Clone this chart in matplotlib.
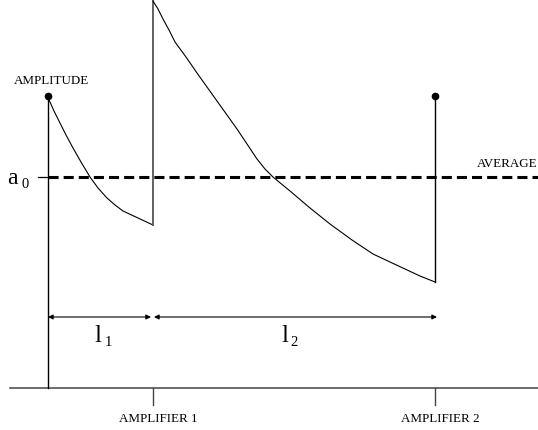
import matplotlib
matplotlib.use("Agg")
import matplotlib.pyplot as plt
import numpy as np

plt.rcParams['font.family'] = ['Liberation Serif', 'DejaVu Serif']

# Positions along the link (drawing units, origin at the upper left)
x_source = 48
x_amp1 = 153
x_amp2 = 435
x_end = 538
y_base = 389
y_average = 178
y_peak_src = 97
y_span_arrows = 318

# Signal power decaying along span 1 (source -> amplifier 1)
span1_x = [48, 50, 54, 60, 66, 73, 81, 90, 98, 107, 115, 123, 138, 153]
span1_y = [99, 103, 112, 124, 136, 149, 163, 178, 189, 199, 206, 212, 219, 226]

# Signal power decaying along span 2 (amplifier 1 -> amplifier 2)
span2_x = [153, 158, 163, 169, 175, 186, 197, 207, 217, 227, 237, 247, 257,
           265, 273, 290, 310, 330, 352, 373, 390, 405, 420, 435]
span2_y = [2, 10, 20, 31, 43, 58, 74, 88, 102, 116, 130, 145, 160,
           170, 178, 192, 209, 225, 241, 255, 263, 270, 277, 283]

amp_labels = ["AMPLIFIER 1", "AMPLIFIER 2"]
amp_x = [x_amp1, x_amp2]

fig = plt.figure(figsize=(5.38, 4.31), dpi=100)
ax = fig.add_axes([0, 0, 1, 1])
ax.set_xlim(0, 538)
ax.set_ylim(431, 0)
ax.axis('off')

k = 'black'
# baseline and amplifier ticks
ax.plot([10, x_end], [y_base, y_base], color='#444444', lw=1.1)
for xa, lab in zip(amp_x, amp_labels):
    ax.plot([xa, xa], [y_base, 406], color='#444444', lw=1.0)
    ax.text(xa + 5, 419, lab, ha='center', va='center', fontsize=9.4)

# left amplitude axis
ax.plot([x_source, x_source], [y_peak_src, y_base], color=k, lw=1.0)
ax.plot([x_source], [y_peak_src], 'o', color=k, ms=4.5)
ax.text(51, 81, "AMPLITUDE", ha='center', va='center', fontsize=9.4)

# average level
ax.plot([38, x_source], [y_average, y_average], color=k, lw=0.9)
ax.plot([x_source, x_end], [y_average, y_average], color=k, lw=2.2,
        dashes=(3.3, 1.65))
ax.text(507, 164.5, "AVERAGE", ha='center', va='center', fontsize=9.4)
ax.text(7, 184, "a", ha='left', va='baseline', fontsize=17)
ax.text(21, 188, "0", ha='left', va='baseline', fontsize=10.5)

# signal evolution
ax.plot(span1_x, span1_y, color=k, lw=0.8)
ax.plot([x_amp1, x_amp1], [span1_y[-1], span2_y[0]], color='#555555', lw=1.3)
ax.plot(span2_x, span2_y, color=k, lw=0.8)
ax.plot([x_amp2, x_amp2], [span2_y[-1], y_peak_src], color=k, lw=1.0)
ax.plot([x_amp2], [y_peak_src], 'o', color=k, ms=4.5)

# span length arrows
arrow = dict(arrowstyle='<|-|>', color=k, lw=0.8, mutation_scale=7,
             shrinkA=0, shrinkB=0)
ax.annotate('', xy=(x_source, y_span_arrows), xytext=(x_amp1 - 2, y_span_arrows),
            arrowprops=arrow)
ax.annotate('', xy=(x_amp1 + 1, y_span_arrows), xytext=(x_amp2 + 2, y_span_arrows),
            arrowprops=arrow)
ax.text(94, 342, "l", ha='left', va='baseline', fontsize=18)
ax.text(105, 346, "1", ha='left', va='baseline', fontsize=10.5)
ax.text(281, 342, "l", ha='left', va='baseline', fontsize=18)
ax.text(290, 346, "2", ha='left', va='baseline', fontsize=10.5)

fig.savefig("out.png", dpi=100)
